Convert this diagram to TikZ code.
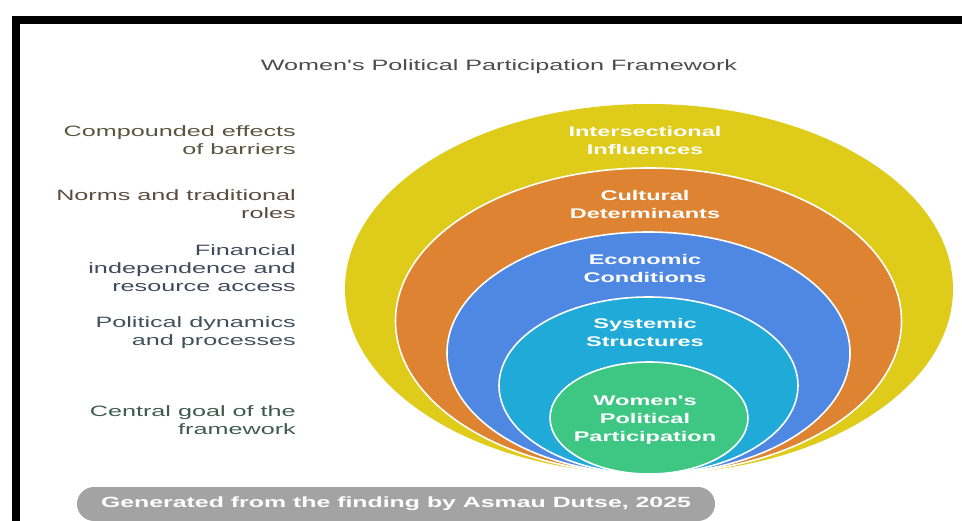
\documentclass[tikz,border=0pt]{standalone}
\usepackage{fontspec}
\newfontfamily\wfont[FakeStretch=1.68]{Liberation Sans}
\usetikzlibrary{positioning,calc}

\definecolor{ringY}{HTML}{DFCB19}
\definecolor{ringO}{HTML}{DE8331}
\definecolor{ringB}{HTML}{4E88E3}
\definecolor{ringC}{HTML}{1FAAD8}
\definecolor{ringG}{HTML}{3EC683}
\definecolor{pillgray}{HTML}{A3A3A3}
\definecolor{txtY}{HTML}{58573E}
\definecolor{txtO}{HTML}{5C4B3F}
\definecolor{txtB}{HTML}{3F4A5D}
\definecolor{txtC}{HTML}{3F525B}
\definecolor{txtG}{HTML}{3F5A4F}

\begin{document}
\begin{tikzpicture}[x=1pt,y=-1pt,
    side/.style={font=\wfont\fontsize{15}{18}\selectfont, align=right, anchor=east, inner sep=0pt},
    ring/.style={draw=white, line width=1.6pt},
    ringtext/.style={font=\wfont\bfseries\fontsize{14}{18}\selectfont, text=white, align=center, inner sep=0pt}]
\useasboundingbox (0,0) rectangle (962,521);

% frame
\fill[black] (12,16) rectangle (962,24);
\fill[black] (12,16) rectangle (20,521);

\node[font=\wfont\fontsize{15}{18}\selectfont, text=black!70] (T) at (499,67) {Women's Political Participation Framework};

% rings, all touching at the bottom point
\coordinate (O) at (648.5,474);
\fill[ringY] (649,289) ellipse [x radius=304, y radius=185];
\filldraw[ring, fill=ringO] (648.5,321) ellipse [x radius=253, y radius=153];
\filldraw[ring, fill=ringB] (648.5,353) ellipse [x radius=201.5, y radius=121];
\filldraw[ring, fill=ringC] (648.5,385.5) ellipse [x radius=149.5, y radius=88.5];
\filldraw[ring, fill=ringG] (649,418) ellipse [x radius=99, y radius=56];

\node[ringtext] (R1) at (645,140) {Intersectional\\Influences};
\node[ringtext] (R2) at (645,204) {Cultural\\Determinants};
\node[ringtext] (R3) at (645,268) {Economic\\Conditions};
\node[ringtext] (R4) at (645,332.5) {Systemic\\Structures};
\node[ringtext] (R5) at (645,420.5) {Women's\\Political\\Participation};

% descriptions on the left
\node[side, text=txtY] (L1) at (296,140) {Compounded effects\\of barriers};
\node[side, text=txtO] (L2) at (296,204) {Norms and traditional\\roles};
\node[side, text=txtB] (L3) at (296,268) {Financial\\independence and\\resource access};
\node[side, text=txtC] (L4) at (296,332.5) {Political dynamics\\and processes};
\node[side, text=txtG] (L5) at (296,420) {Central goal of the\\framework};

\node[fill=pillgray, rounded corners=17pt, minimum width=638pt, minimum height=34pt, inner sep=0pt,
      font=\wfont\bfseries\fontsize{14.8}{16}\selectfont, text=white] (G) at (396,504)
      {Generated from the finding by Asmau Dutse, 2025};
\end{tikzpicture}
\end{document}
